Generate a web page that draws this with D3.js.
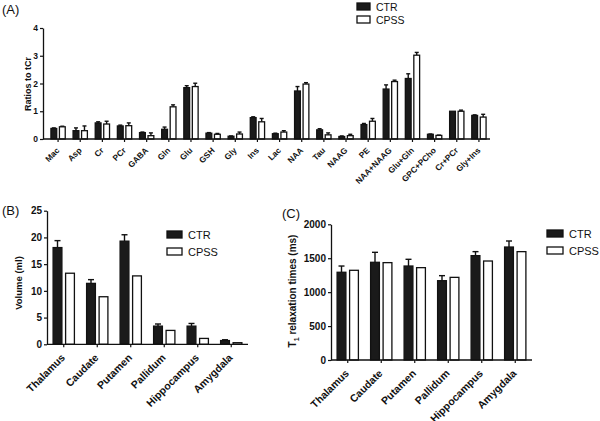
<!DOCTYPE html>
<html><head><meta charset="utf-8">
<script src="https://cdn.jsdelivr.net/npm/d3@7/dist/d3.min.js"></script>
<style>
body{margin:0;background:#fff;}
svg{display:block;font-family:"Liberation Sans",Arial,Helvetica,sans-serif;}
</style></head>
<body><svg id="c" width="600" height="421"></svg>
<script>
// ---------- DATA ----------
const seriesNames = ["CTR", "CPSS"];
const metabolites = ["Mac","Asp","Cr","PCr","GABA","Gln","Glu","GSH","Gly","Ins","Lac","NAA","Tau","NAAG","PE","NAA+NAAG","Glu+Gln","GPC+PCho","Cr+PCr","Gly+Ins"];
const ratioCTR     = [0.38,0.30,0.58,0.47,0.23,0.35,1.85,0.21,0.10,0.77,0.19,1.73,0.33,0.09,0.52,1.80,2.18,0.17,1.00,0.85];
const ratioCTRErr  = [0.02,0.10,0.04,0.03,0.02,0.08,0.07,0.02,0.01,0.03,0.02,0.16,0.04,0.02,0.04,0.15,0.17,0.01,0.00,0.02];
const ratioCPSS    = [0.44,0.30,0.54,0.48,0.12,1.16,1.89,0.17,0.18,0.62,0.25,1.98,0.15,0.12,0.64,2.07,3.02,0.13,1.00,0.79];
const ratioCPSSErr = [0.02,0.17,0.10,0.10,0.10,0.07,0.12,0.03,0.07,0.12,0.05,0.05,0.07,0.05,0.10,0.05,0.10,0.01,0.04,0.10];
const ratioTicks = [0,1,2,3,4];

const regions = ["Thalamus","Caudate","Putamen","Pallidum","Hippocampus","Amygdala"];
const volCTR     = [18.1,11.4,19.3,3.4,3.4,0.7];
const volCTRErr  = [1.3,0.7,1.2,0.4,0.5,0.15];
const volCPSS    = [13.3,8.9,12.8,2.6,1.1,0.3];
const volCPSSErr = [0,0,0,0,0,0];
const volTicks = [0,5,10,15,20,25];

const t1CTR     = [1293,1440,1385,1169,1538,1665];
const t1CTRErr  = [92,147,99,74,59,89];
const t1CPSS    = [1322,1435,1361,1218,1459,1597];
const t1CPSSErr = [0,0,0,0,0,0];
const t1Ticks = [0,500,1000,1500,2000];

// ---------- DRAW ----------
const svg = d3.select("#c");
const FONT = "Liberation Sans, Arial, sans-serif";

function panel(o){
  const g = svg.append("g");
  const x = d3.scaleBand().domain(o.cats).range(o.xr);
  const bw = x.bandwidth();
  const xi = d3.scaleBand().domain(seriesNames)
     .range([bw/2 - o.barW - o.gap/2, bw/2 + o.barW + o.gap/2])
     .paddingInner(o.gap/(o.barW+o.gap));
  const y = d3.scaleLinear().domain(o.yd).range(o.yr);
  const series = [
    {name:"CTR", vals:o.a, errs:o.ae, fill:"#1a1a1a"},
    {name:"CPSS", vals:o.b, errs:o.be, fill:"#ffffff"}
  ];
  series.forEach(s=>{
    const sg = g.append("g");
    o.cats.forEach((c,i)=>{
      if(!s.errs[i]) return;
      const cx = x(c)+xi(s.name)+xi.bandwidth()/2;
      sg.append("line").attr("x1",cx).attr("x2",cx)
        .attr("y1",y(s.vals[i])).attr("y2",y(s.vals[i]+s.errs[i]))
        .attr("stroke","#111").attr("stroke-width",1.4);
      sg.append("line").attr("x1",cx-o.cap/2).attr("x2",cx+o.cap/2)
        .attr("y1",y(s.vals[i]+s.errs[i])).attr("y2",y(s.vals[i]+s.errs[i]))
        .attr("stroke","#111").attr("stroke-width",1.4);
    });
    sg.selectAll("rect").data(o.cats).join("rect")
      .attr("x",c=>x(c)+xi(s.name)+0.6)
      .attr("width",xi.bandwidth()-1.2)
      .attr("y",(c,i)=>y(s.vals[i]))
      .attr("height",(c,i)=>y(0)-y(s.vals[i]))
      .attr("fill",s.fill).attr("stroke","#111").attr("stroke-width",1.3);
  });
  // y axis
  const ya = g.append("g").attr("transform",`translate(${o.yAxisX},0)`)
    .call(d3.axisLeft(y).tickValues(o.ticks).tickFormat(d3.format("d")).tickSize(3).tickSizeOuter(0).tickPadding(2));
  ya.select(".domain").attr("stroke","#111").attr("stroke-width",1.3);
  ya.selectAll(".tick line").attr("stroke","#111").attr("stroke-width",1.2);
  ya.selectAll("text").attr("font-size",o.tickFs).attr("font-weight","bold").attr("fill","#111")
    .attr("font-family",FONT);
  // x axis
  const xa = g.append("g").attr("transform",`translate(0,${y(0)})`)
    .call(d3.axisBottom(x).tickSize(3).tickSizeOuter(0).tickPadding(3));
  xa.select(".domain").remove();
  xa.append("line").attr("x1",o.yAxisX).attr("x2",o.xr[1]).attr("y1",0).attr("y2",0)
    .attr("stroke","#111").attr("stroke-width",1.3);
  xa.selectAll(".tick line").attr("stroke","#111").attr("stroke-width",1.2);
  xa.selectAll(".tick text").attr("font-size",o.xFs).attr("font-weight","bold").attr("fill","#111")
    .attr("font-family",FONT)
    .attr("text-anchor","end").attr("dy",null).attr("y",null)
    .attr("transform",`translate(${o.xlDx},${o.xlDy}) rotate(-45)`);
  // y title
  const t = svg.append("text").attr("transform",`translate(${o.titleX},${o.titleY}) rotate(-90)`)
    .attr("text-anchor","middle").attr("font-size",o.titleFs).attr("font-weight","bold").attr("fill","#111")
    .attr("font-family",FONT);
  o.title(t);
  // panel letter
  svg.append("text").attr("x",o.letter[1]).attr("y",o.letter[2]).attr("font-size",13).attr("fill","#111")
    .attr("font-family",FONT).text(o.letter[0]);
  // legend
  const lg = g.append("g");
  series.forEach((s,i)=>{
    lg.append("rect").attr("x",o.leg.x).attr("y",o.leg.y+i*o.leg.dy)
      .attr("width",o.leg.w).attr("height",o.leg.h)
      .attr("fill",s.fill).attr("stroke","#111").attr("stroke-width",1.3);
    lg.append("text").attr("x",o.leg.x+o.leg.w+o.leg.tx).attr("y",o.leg.y+i*o.leg.dy+o.leg.h+0.5)
      .attr("font-size",o.leg.fs).attr("fill","#111").attr("font-family",FONT).text(s.name);
  });
}

panel({cats:metabolites, xr:[47,490], barW:7, gap:1.5, cap:4,
  yd:[0,4], yr:[139,28], ticks:ratioTicks, yAxisX:43,
  a:ratioCTR, ae:ratioCTRErr, b:ratioCPSS, be:ratioCPSSErr,
  tickFs:8.5, xFs:8.3, xlDx:2, xlDy:12,
  titleX:31, titleY:84, titleFs:9, title:t=>t.text("Ratios to tCr"),
  letter:["(A)",2,14],
  leg:{x:357,y:3,w:13,h:7,dy:13,tx:6,fs:10.5}
});

panel({cats:regions, xr:[47,248], barW:10, gap:2.5, cap:6,
  yd:[0,25], yr:[344.3,210.7], ticks:volTicks, yAxisX:47,
  a:volCTR, ae:volCTRErr, b:volCPSS, be:volCPSSErr,
  tickFs:10, xFs:10.5, xlDx:2, xlDy:14,
  titleX:22, titleY:283, titleFs:9.5, title:t=>t.text("Volume (ml)"),
  letter:["(B)",2,215],
  leg:{x:167,y:231,w:15,h:7,dy:17,tx:6,fs:11}
});

panel({cats:regions, xr:[331,532], barW:10, gap:2.5, cap:6,
  yd:[0,2000], yr:[360,224.3], ticks:t1Ticks, yAxisX:331,
  a:t1CTR, ae:t1CTRErr, b:t1CPSS, be:t1CPSSErr,
  tickFs:10, xFs:10.5, xlDx:2, xlDy:14,
  titleX:296, titleY:291, titleFs:10,
  title:t=>{ t.append("tspan").text("T");
    t.append("tspan").attr("font-size",7).attr("dy",3).text("1");
    t.append("tspan").attr("dy",-3).text(" relaxation times (ms)"); },
  letter:["(C)",282,218],
  leg:{x:547,y:230,w:16,h:7,dy:17,tx:6,fs:11}
});
</script></body></html>
